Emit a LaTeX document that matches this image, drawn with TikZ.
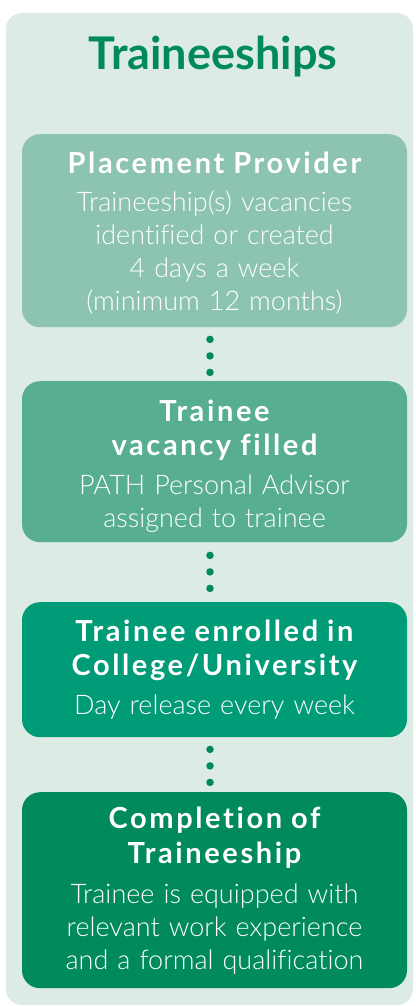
\documentclass[tikz,border=0pt]{standalone}
\usepackage{fontspec}
\setmainfont{Lato}
\newfontfamily\headfont{Lato}[LetterSpace=9, WordSpace=1.6, Ligatures=NoCommon]
\newfontfamily\lightfont{Lato Light}[WordSpace=1.3, Ligatures=NoCommon]
\definecolor{panelbg}{HTML}{DCEBE4}
\definecolor{boxA}{HTML}{8DC4B0}
\definecolor{boxB}{HTML}{58AE92}
\definecolor{boxC}{HTML}{009B77}
\definecolor{boxD}{HTML}{008A5E}
\definecolor{titlegreen}{HTML}{008A5A}
\newcommand{\hd}[1]{{\headfont\bfseries\fontsize{29}{33}\selectfont #1}}
\newcommand{\bd}[1]{{\lightfont\fontsize{27}{33}\selectfont #1}}
\begin{document}
\begin{tikzpicture}[x=1pt,y=-1pt,
  stepbox/.style={rectangle, rounded corners=18pt, inner sep=0pt, text=white,
    minimum width=385pt, text width=385pt, align=center, anchor=north,
    font=\fontsize{27}{33}\selectfont},
  dotline/.style={draw=titlegreen, line width=7.5pt, line cap=round, dash pattern=on 0pt off 16.5pt}]
\useasboundingbox (0,0) rectangle (415,1006);
\fill[panelbg, rounded corners=16pt] (6,13) rectangle (413,1005);
\node[font=\fontsize{45}{50}\selectfont\bfseries, text=titlegreen] (title) at (213,57) {Traineeships};
\node[stepbox, fill=boxA, minimum height=193pt] (b1) at (214.5,134)
  {\rule{0pt}{27pt}\hd{Placement Provider}\\[5pt]
   \bd{Traineeship(s) vacancies}\\\bd{identified or created}\\\bd{4 days a week}\\\bd{(minimum 12 months)}};
\node[stepbox, fill=boxB, minimum height=161pt] (b2) at (214.5,381)
  {\rule{0pt}{30pt}\hd{Trainee}\\[1pt]\hd{vacancy filled}\\[6pt]
   \bd{PATH Personal Advisor}\\\bd{assigned to trainee}};
\node[stepbox, fill=boxC, minimum height=135pt] (b3) at (214.5,602)
  {\hd{Trainee enrolled in}\\[1pt]\hd{College/University}\\[6pt]
   \bd{Day release every week}};
\node[stepbox, fill=boxD, minimum height=196pt] (b4) at (214.5,792)
  {\hd{Completion of}\\[2pt]\hd{Traineeship}\\[7pt]
   \bd{Trainee is equipped with}\\\bd{relevant work experience}\\\bd{and a formal qualification}};
\draw[dotline, shorten <=12pt, shorten >=8.5pt] ([xshift=-4.5pt]b1.south) -- ([xshift=-4.5pt]b2.north);
\draw[dotline, shorten <=13pt, shorten >=13.5pt] ([xshift=-4.5pt]b2.south) -- ([xshift=-4.5pt]b3.north);
\draw[dotline, shorten <=12pt, shorten >=9.5pt] ([xshift=-4.5pt]b3.south) -- ([xshift=-4.5pt]b4.north);
\end{tikzpicture}
\end{document}
